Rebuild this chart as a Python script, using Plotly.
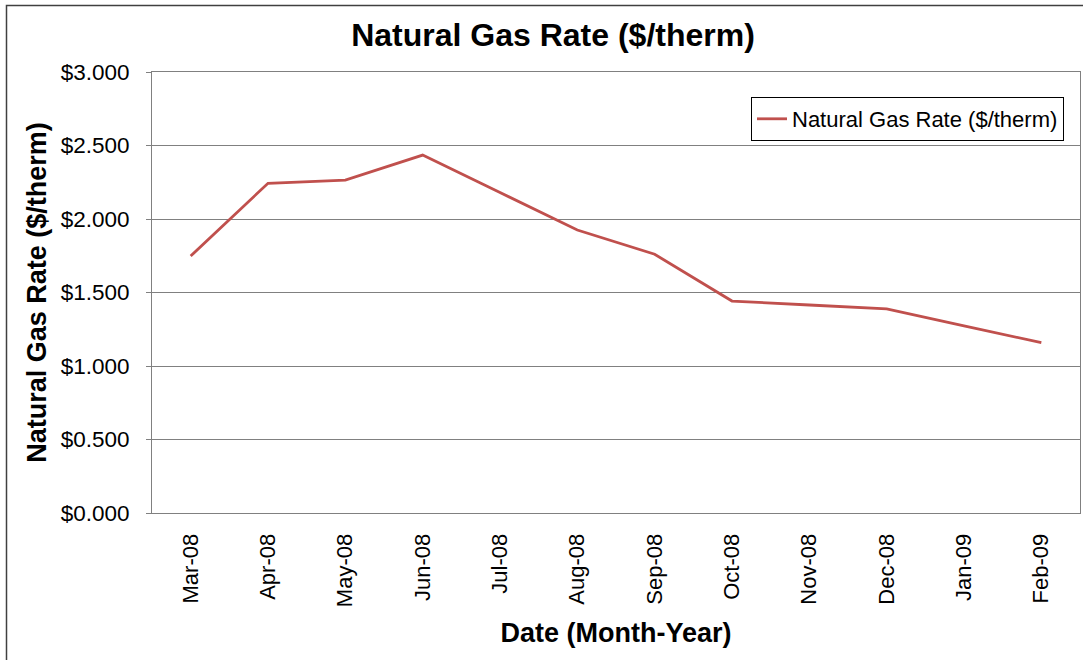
import plotly.graph_objects as go

months = ["Mar-08", "Apr-08", "May-08", "Jun-08", "Jul-08", "Aug-08",
          "Sep-08", "Oct-08", "Nov-08", "Dec-08", "Jan-09", "Feb-09"]
rates = [1.748, 2.243, 2.265, 2.435, 2.180, 1.925,
         1.760, 1.442, 1.415, 1.388, 1.273, 1.159]
y_ticks = [0.0, 0.5, 1.0, 1.5, 2.0, 2.5, 3.0]
y_tick_text = ["$" + format(v, ".3f") for v in y_ticks]

FONT = "Liberation Sans, Arial, sans-serif"

fig = go.Figure()
fig.add_trace(go.Scatter(
    x=months, y=rates, mode="lines",
    name="Natural Gas Rate ($/therm)",
    line=dict(color="#C0504D", width=2.8),
))

W, H = 1083, 660
L, R, T, B = 152, 3, 72, 147
pw, ph = W - L - R, H - T - B

def px_x(p):
    return (p - L) / pw

def px_y(p):
    return (H - B - p) / ph

fig.update_layout(
    width=W, height=H,
    margin=dict(l=L, r=R, t=T, b=B, autoexpand=False),
    paper_bgcolor="white", plot_bgcolor="white",
    font=dict(family=FONT, color="black"),
    title=dict(text="<b>Natural Gas Rate ($/therm)</b>",
               font=dict(size=32, family=FONT, color="black"),
               x=553 / W, xref="container", xanchor="center",
               y=1 - 35 / H, yref="container", yanchor="middle"),
    showlegend=True,
    legend=dict(x=px_x(1064), xanchor="right", y=px_y(97), yanchor="top",
                bgcolor="white", bordercolor="black", borderwidth=1,
                font=dict(size=22, family=FONT, color="black"),
                itemwidth=30, tracegroupgap=0),
    shapes=[dict(type="rect", xref="paper", yref="paper",
                 x0=px_x(6.5), x1=px_x(1095), y0=px_y(670), y1=px_y(5.5),
                 line=dict(color="#404040", width=1.5), layer="below")],
)

fig.update_xaxes(
    type="category", categoryorder="array", categoryarray=months,
    range=[-0.5, 11.5],
    showline=True, linecolor="#808080", linewidth=1, mirror=True,
    showgrid=False, ticks="", tickangle=-90,
    tickfont=dict(size=22, family=FONT, color="black"),
    ticklabelstandoff=11,
    title=dict(text="<b>Date (Month-Year)</b>",
               font=dict(size=27, family=FONT, color="black"), standoff=16),
)

fig.update_yaxes(
    range=[0, 3], tickvals=y_ticks, ticktext=y_tick_text,
    showline=True, linecolor="#808080", linewidth=1, mirror=True,
    showgrid=True, gridcolor="#808080", gridwidth=1,
    ticks="outside", ticklen=5, tickcolor="#808080",
    tickfont=dict(size=22.5, family=FONT, color="black"),
    ticklabelstandoff=12,
    zeroline=False,
    title=dict(text="<b>Natural Gas Rate ($/therm)</b>",
               font=dict(size=27, family=FONT, color="black"), standoff=6),
)

fig.write_html("out.html", config={"displayModeBar": False},
               post_script="document.body.style.margin='0';document.body.style.padding='0';")
